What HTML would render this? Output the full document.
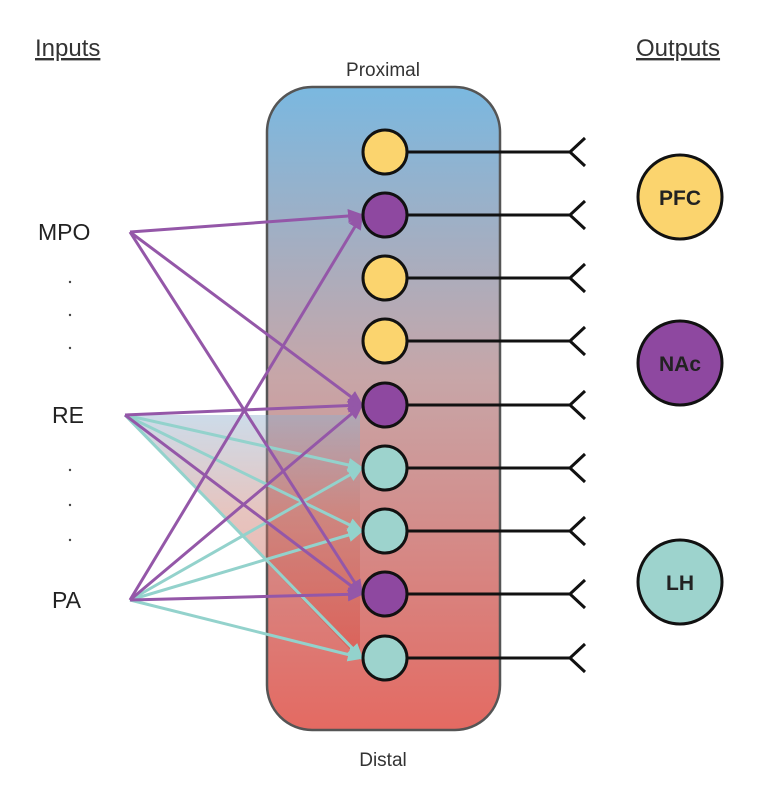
<!DOCTYPE html>
<html><head><style>body{margin:0;background:#fff;}svg{display:block}</style></head><body>
<svg width="782" height="786" xmlns="http://www.w3.org/2000/svg" font-family="Liberation Sans, sans-serif">
<defs>
<linearGradient id="g" x1="0" y1="0" x2="0" y2="1">
<stop offset="0" stop-color="#7ab8e0"/><stop offset="0.45" stop-color="#c7a6a8"/><stop offset="1" stop-color="#e46a62"/></linearGradient>
<linearGradient id="t" x1="0" y1="0" x2="0" y2="1">
<stop offset="0" stop-color="#8fb0cf"/><stop offset="0.4" stop-color="#c87c70"/><stop offset="1" stop-color="#d9463a"/></linearGradient>
<marker id="ap" markerWidth="16" markerHeight="16" refX="14" refY="8" orient="auto" markerUnits="userSpaceOnUse" viewBox="0 0 16 16"><path d="M0,1 L16,8 L0,15z" fill="#9457a8"/></marker>
<marker id="at" markerWidth="16" markerHeight="16" refX="14" refY="8" orient="auto" markerUnits="userSpaceOnUse" viewBox="0 0 16 16"><path d="M0,1 L16,8 L0,15z" fill="#93d2cc"/></marker>
</defs>
<style>.p{stroke:#9457a8;stroke-width:3;fill:none;marker-end:url(#ap)}.q{stroke:#93d2cc;stroke-width:3;fill:none;marker-end:url(#at)}</style>
<text x="35" y="56" font-size="24" fill="#333" text-decoration="underline">Inputs</text>
<text x="636" y="56" font-size="24" fill="#333" text-decoration="underline">Outputs</text>
<text x="383" y="76" font-size="19" fill="#333" text-anchor="middle">Proximal</text>
<text x="383" y="766" font-size="19" fill="#333" text-anchor="middle">Distal</text>
<rect x="267" y="87" width="233" height="643" rx="45" fill="url(#g)" stroke="#555" stroke-width="2.5"/>
<polygon points="125,415 360,415 360,660" fill="url(#t)" opacity="0.45"/>
<text x="38" y="240" font-size="23" fill="#222">MPO</text>
<text x="52" y="423" font-size="23" fill="#222">RE</text>
<text x="52" y="608" font-size="23" fill="#222">PA</text>
<g fill="#444"><circle cx="70" cy="282" r="1.2"/><circle cx="70" cy="315" r="1.2"/><circle cx="70" cy="348" r="1.2"/><circle cx="70" cy="470" r="1.2"/><circle cx="70" cy="505" r="1.2"/><circle cx="70" cy="540" r="1.2"/></g>
<g>
<line class="q" x1="125" y1="415" x2="362" y2="468"/>
<line class="q" x1="125" y1="415" x2="362" y2="531"/>
<line class="q" x1="130" y1="600" x2="362" y2="468"/>
<line class="q" x1="130" y1="600" x2="362" y2="531"/>
<line class="q" x1="130" y1="600" x2="362" y2="658"/>
<line class="q" x1="125" y1="415" x2="362" y2="658"/>
<line class="p" x1="130" y1="232" x2="362" y2="215"/>
<line class="p" x1="130" y1="232" x2="362" y2="405"/>
<line class="p" x1="130" y1="232" x2="362" y2="594"/>
<line class="p" x1="125" y1="415" x2="362" y2="405"/>
<line class="p" x1="125" y1="415" x2="362" y2="594"/>
<line class="p" x1="130" y1="600" x2="362" y2="215"/>
<line class="p" x1="130" y1="600" x2="362" y2="405"/>
<line class="p" x1="130" y1="600" x2="362" y2="594"/>
</g>
<g stroke="#111" stroke-width="3" fill="none">
<path d="M407,152H570M570,152L585,138M570,152L585,166"/>
<path d="M407,215H570M570,215L585,201M570,215L585,229"/>
<path d="M407,278H570M570,278L585,264M570,278L585,292"/>
<path d="M407,341H570M570,341L585,327M570,341L585,355"/>
<path d="M407,405H570M570,405L585,391M570,405L585,419"/>
<path d="M407,468H570M570,468L585,454M570,468L585,482"/>
<path d="M407,531H570M570,531L585,517M570,531L585,545"/>
<path d="M407,594H570M570,594L585,580M570,594L585,608"/>
<path d="M407,658H570M570,658L585,644M570,658L585,672"/>
</g>
<g stroke="#111" stroke-width="3">
<circle cx="385" cy="152" r="22" fill="#fbd46e"/>
<circle cx="385" cy="215" r="22" fill="#8e48a0"/>
<circle cx="385" cy="278" r="22" fill="#fbd46e"/>
<circle cx="385" cy="341" r="22" fill="#fbd46e"/>
<circle cx="385" cy="405" r="22" fill="#8e48a0"/>
<circle cx="385" cy="468" r="22" fill="#9dd3cd"/>
<circle cx="385" cy="531" r="22" fill="#9dd3cd"/>
<circle cx="385" cy="594" r="22" fill="#8e48a0"/>
<circle cx="385" cy="658" r="22" fill="#9dd3cd"/>
<circle cx="680" cy="197" r="42" fill="#fbd46e"/>
<circle cx="680" cy="363" r="42" fill="#8e48a0"/>
<circle cx="680" cy="582" r="42" fill="#9dd3cd"/>
</g>
<g font-size="21" font-weight="bold" fill="#222" text-anchor="middle">
<text x="680" y="205">PFC</text><text x="680" y="371">NAc</text><text x="680" y="590">LH</text></g>
</svg>
</body></html>
